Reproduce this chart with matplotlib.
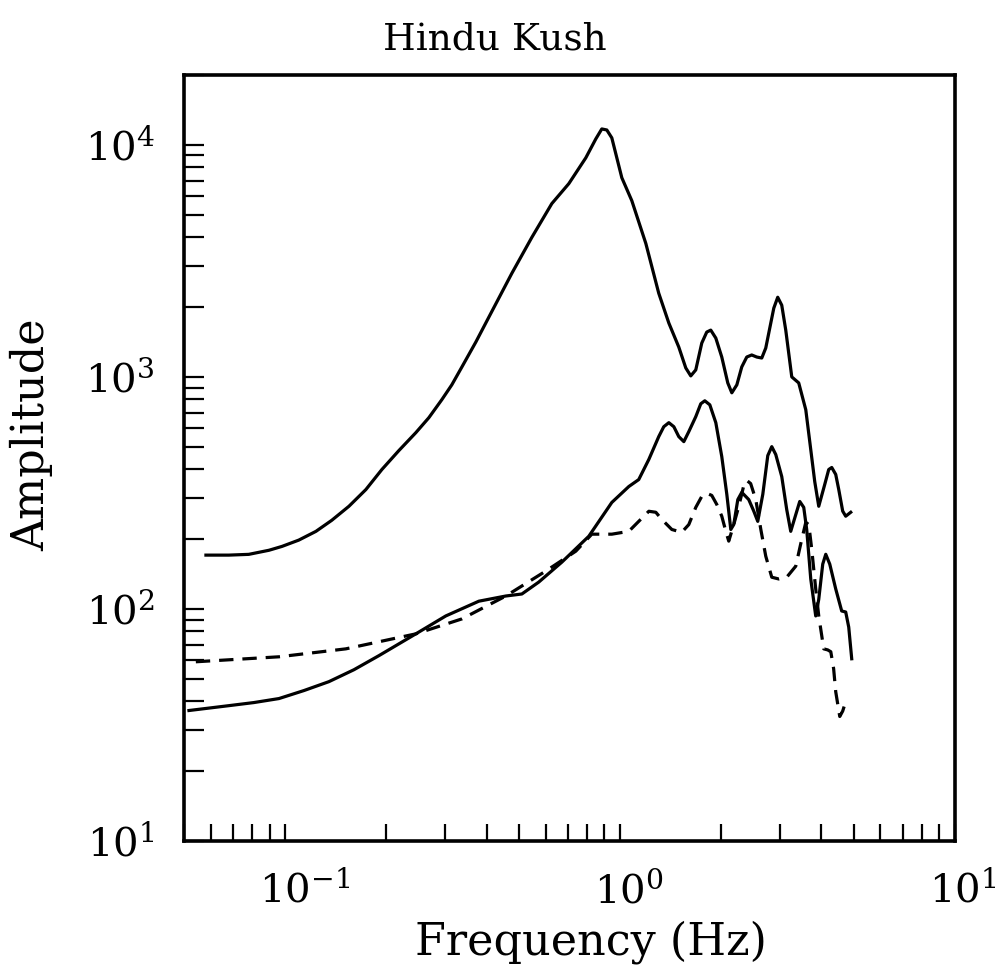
import matplotlib
matplotlib.use("Agg")
import matplotlib.pyplot as plt
from matplotlib.ticker import LogLocator, NullFormatter

plt.rcParams["font.family"] = ["DejaVu Serif"]
plt.rcParams["mathtext.fontset"] = "dejavuserif"

# upper solid curve
freq_a = [0.0581, 0.068, 0.078, 0.0896, 0.098, 0.110, 0.1238, 0.138, 0.1553, 0.1745,
          0.1948, 0.2188, 0.246, 0.269, 0.294, 0.315, 0.3377, 0.3716, 0.4064, 0.476,
          0.546, 0.6266, 0.7042, 0.7916, 0.848, 0.8836, 0.9146, 0.9465, 1.014, 1.086,
          1.196, 1.307, 1.401, 1.50, 1.574, 1.629, 1.686, 1.757, 1.818, 1.869,
          1.935, 2.016, 2.101, 2.160, 2.236, 2.313, 2.394, 2.477, 2.564, 2.654,
          2.728, 2.785, 2.883, 2.962, 3.045, 3.13, 3.262, 3.422, 3.592, 3.717,
          3.82, 3.927, 4.09, 4.206, 4.294, 4.413, 4.506, 4.63, 4.727, 4.893]
amp_a = [170.6, 170.6, 171.9, 179, 186, 198, 216, 241, 277, 327,
         399, 481, 575, 667, 797, 924, 1104, 1413, 1809, 2795,
         3990, 5583, 6803, 8794, 10610, 11710, 11590, 10720, 7215, 5748,
         3758, 2294, 1706, 1345, 1093, 1010, 1072, 1399, 1560, 1591,
         1470, 1218, 942, 854, 924, 1104, 1218, 1243, 1218, 1206,
         1332, 1545, 1979, 2204, 2037, 1591, 1000, 942, 722, 486,
         354, 277, 343, 399, 407, 380, 327, 264, 251, 261]

# lower solid curve
freq_b = [0.0517, 0.068, 0.0808, 0.096, 0.114, 0.1353, 0.1607, 0.1908, 0.246, 0.3023,
          0.3794, 0.4567, 0.51, 0.573, 0.671, 0.808, 0.9465, 1.064, 1.139, 1.221,
          1.307, 1.353, 1.401, 1.45, 1.50, 1.553, 1.607, 1.686, 1.745, 1.794,
          1.857, 1.935, 2.016, 2.087, 2.145, 2.189, 2.251, 2.313, 2.427, 2.512,
          2.582, 2.673, 2.766, 2.843, 2.922, 3.045, 3.151, 3.239, 3.353, 3.446,
          3.542, 3.615, 3.717, 3.846, 3.927, 4.036, 4.121, 4.236, 4.413, 4.598,
          4.727, 4.826, 4.926]
amp_b = [36.5, 38.3, 39.5, 41.1, 44.5, 48.6, 54.7, 62.9, 78.1, 93.3,
         108, 113.7, 116, 130.6, 159, 205.7, 287.7, 337, 361, 441,
         553, 610, 635, 610, 553, 526, 581, 674, 766, 789,
         758, 635, 453.6, 312, 220, 231, 296, 318, 296, 264,
         238.5, 312, 458, 500.6, 463, 372, 268, 216, 255, 290.6,
         274, 220, 134.6, 93.3, 110, 156, 172, 156, 122, 98,
         97, 83.5, 61]

# dashed curve
freq_c = [0.0542, 0.096, 0.152, 0.246, 0.3377, 0.4567, 0.601, 0.739, 0.825, 0.9465,
          1.064, 1.139, 1.221, 1.281, 1.335, 1.43, 1.531, 1.607, 1.686, 1.757,
          1.818, 1.882, 1.948, 2.016, 2.073, 2.115, 2.189, 2.266, 2.345, 2.394,
          2.459, 2.547, 2.637, 2.728, 2.843, 2.986, 3.151, 3.353, 3.467, 3.592,
          3.667, 3.742, 3.846, 3.927, 4.064, 4.177, 4.266, 4.35, 4.413, 4.537,
          4.63, 4.695]
amp_c = [59.2, 62.2, 67.3, 78.1, 90.6, 113.7, 145.6, 177.4, 210, 210,
         216, 238.5, 263.6, 261, 243, 220, 214, 231, 274, 305.5,
         315, 308.5, 282, 251, 216, 196, 231, 277, 340, 358,
         347, 296, 220, 168.8, 137, 134.6, 137, 152.9, 190, 236,
         231, 181, 122, 93.3, 67.3, 66.6, 65.4, 55.3, 44, 34.4,
         36.3, 38.7]

x_decades = [0.1, 1, 10]
x_labels = [r"$10^{-1}$", r"$10^{0}$", r"$10^{1}$"]
y_decades = [10, 100, 1000, 10000]
y_labels = [r"$10^{1}$", r"$10^{2}$", r"$10^{3}$", r"$10^{4}$"]

fig = plt.figure(figsize=(10.06, 9.69), dpi=100)
ax = fig.add_axes([0.183, 0.1321, 0.766, 0.7905])

line_kw = dict(color="black", lw=2.3, solid_joinstyle="round", dash_joinstyle="round")
ax.plot(freq_a, amp_a, **line_kw)
ax.plot(freq_b, amp_b, **line_kw)
ax.plot(freq_c, amp_c, dashes=(4.5, 2.8), **line_kw)

ax.set_xscale("log")
ax.set_yscale("log")
ax.set_xlim(0.05, 10)
ax.set_ylim(10, 2e4)

for ax_ in (ax.xaxis, ax.yaxis):
    ax_.set_major_locator(LogLocator(base=10, numticks=10))
    ax_.set_minor_locator(LogLocator(base=10, subs=range(2, 10), numticks=10))
    ax_.set_major_formatter(NullFormatter())
    ax_.set_minor_formatter(NullFormatter())

ax.tick_params(axis="x", which="both", direction="in", length=12, width=1.6,
               top=False, labelbottom=False)
ax.tick_params(axis="y", which="both", direction="in", length=14.5, width=1.6,
               right=False, labelleft=False)
for s in ax.spines.values():
    s.set_linewidth(2.6)

# tick labels: the "10" sits centred on its tick, exponent hangs to the right
for v, lab in zip(x_decades, x_labels):
    ax.annotate(lab, xy=(v, 0), xycoords=("data", "axes fraction"),
                xytext=(-18.5, -44), textcoords="offset points",
                ha="left", va="baseline", fontsize=29)
for v, lab in zip(y_decades, y_labels):
    ax.annotate(lab, xy=(0, v), xycoords=("axes fraction", "data"),
                xytext=(-21, -10.5), textcoords="offset points",
                ha="right", va="baseline", fontsize=29)

fig.text(0.492, 0.959, "Hindu Kush", ha="center", va="center", fontsize=27)
fig.text(0.587, 0.028, "Frequency (Hz)", ha="center", va="center", fontsize=32)
fig.text(0.031, 0.551, "Amplitude", ha="center", va="center", rotation=90, fontsize=32)

fig.savefig("out.png", dpi=100)
